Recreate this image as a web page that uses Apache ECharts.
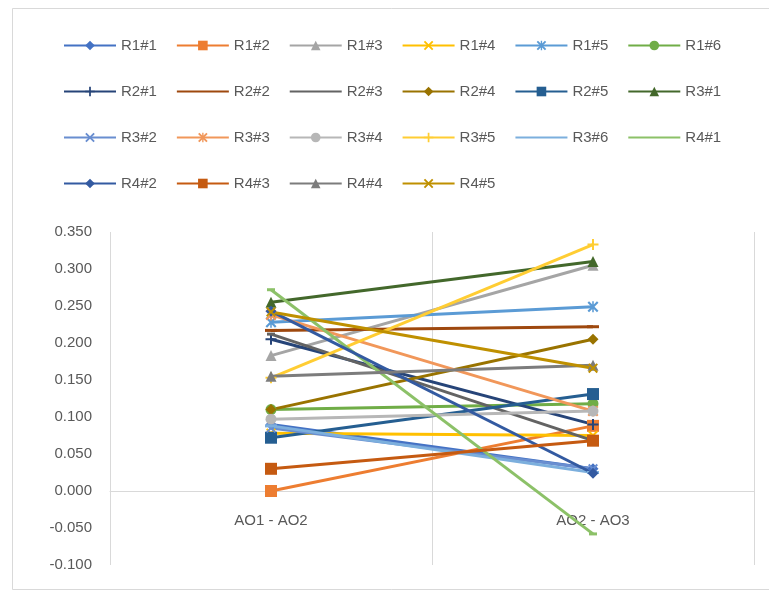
<!DOCTYPE html>
<html>
<head>
<meta charset="utf-8">
<script src="https://cdn.jsdelivr.net/npm/echarts@6/dist/echarts.min.js"></script>
<style>
  html, body { margin: 0; padding: 0; background: #ffffff; }
  #chart { width: 769px; height: 592px; }
</style>
</head>
<body>
<div id="chart"></div>
<script>
// ---- data ----
const categories = ['AO1 - AO2', 'AO2 - AO3'];
const seriesNames = [
  'R1#1', 'R1#2', 'R1#3', 'R1#4', 'R1#5', 'R1#6',
  'R2#1', 'R2#2', 'R2#3', 'R2#4', 'R2#5', 'R3#1',
  'R3#2', 'R3#3', 'R3#4', 'R3#5', 'R3#6', 'R4#1',
  'R4#2', 'R4#3', 'R4#4', 'R4#5'
];
// value at "AO1 - AO2" for each series (same order as seriesNames)
const valuesAO1AO2 = [
  0.090, 0.000, 0.183, 0.078, 0.228, 0.110,
  0.205, 0.217, 0.212, 0.110, 0.072, 0.255,
  0.085, 0.238, 0.097, 0.153, 0.088, 0.272,
  0.243, 0.030, 0.155, 0.242
];
// value at "AO2 - AO3" for each series
const valuesAO2AO3 = [
  0.030, 0.088, 0.305, 0.075, 0.249, 0.118,
  0.090, 0.222, 0.068, 0.205, 0.131, 0.310,
  0.030, 0.108, 0.108, 0.333, 0.025, -0.058,
  0.024, 0.068, 0.170, 0.166
];
const yMin = -0.1, yMax = 0.35, yStep = 0.05;

// ---- styling ----
const palette = [
  '#4472C4', '#ED7D31', '#A5A5A5', '#FFC000', '#5B9BD5', '#70AD47',
  '#264478', '#9E480E', '#636363', '#997300', '#255E91', '#43682B',
  '#698ED0', '#F1975A', '#B7B7B7', '#FFCD33', '#7CAFDD', '#8CC168',
  '#335AA1', '#C55A11', '#7C7C7C', '#BF9000'
];
const SYM = {
  diamond: { symbol: 'diamond', size: 11 },
  square:  { symbol: 'rect', size: 12 },
  triangle:{ symbol: 'triangle', size: 11 },
  x:       { symbol: 'path://M0,1.4L1.4,0L5,3.6L8.6,0L10,1.4L6.4,5L10,8.6L8.6,10L5,6.4L1.4,10L0,8.6L3.6,5Z', size: 10 },
  star:    { symbol: 'path://M0,1.4L1.4,0L4.3,2.9L4.3,0L5.7,0L5.7,2.9L8.6,0L10,1.4L6.4,5L10,8.6L8.6,10L5.7,7.1L5.7,10L4.3,10L4.3,7.1L1.4,10L0,8.6L3.6,5Z', size: 11 },
  circle:  { symbol: 'circle', size: 11 },
  plus:    { symbol: 'path://M4.1,0H5.9V4.1H10V5.9H5.9V10H4.1V5.9H0V4.1H4.1Z', size: 11 },
  dash:    { symbol: 'path://M0,0H10V2H0Z', size: [12, 3], plainLegend: true },
  dot:     { symbol: 'path://M0,0H10V2H0Z', size: [8, 3], plainLegend: true }
};
const markerCycle = ['diamond', 'square', 'triangle', 'x', 'star', 'circle', 'plus', 'dash', 'dot'];
const markerOf = i => SYM[markerCycle[i % markerCycle.length]];

const textColor = '#595959';
const gridColor = '#d9d9d9';
const fontFamily = '"Liberation Sans", Arial, sans-serif';

const series = seriesNames.map((name, i) => {
  const m = markerOf(i);
  return {
    name: name,
    type: 'line',
    data: [valuesAO1AO2[i], valuesAO2AO3[i]],
    symbol: m.symbol,
    symbolSize: m.size,
    showSymbol: true,
    color: palette[i],
    lineStyle: { width: 3, color: palette[i] },
    itemStyle: { color: palette[i] },
    emphasis: { disabled: true },
    animation: false
  };
});

// legend laid out as four rows; dash-marker series show a plain line
const legendRows = [seriesNames.slice(0, 6), seriesNames.slice(6, 12), seriesNames.slice(12, 18), seriesNames.slice(18)];
const legendTops = [33, 79, 125, 171];
const legends = legendRows.map((row, r) => ({
  data: row.map(name => {
    const m = markerOf(seriesNames.indexOf(name));
    return m.plainLegend ? { name: name, itemStyle: { opacity: 0 } } : { name: name };
  }),
  left: 58,
  top: legendTops[r],
  orient: 'horizontal',
  itemWidth: 52,
  itemHeight: 12,
  itemGap: 19,
  selectedMode: false,
  textStyle: { color: textColor, fontSize: 15, fontFamily: fontFamily }
}));

// distance (px) of the zero line above the plot bottom, so the category axis sits on zero
const plotTop = 232, plotBottom = 27, plotHeight = 592 - plotTop - plotBottom;
const zeroOffset = plotHeight * (0 - yMin) / (yMax - yMin);

const chart = echarts.init(document.getElementById('chart'), null, { renderer: 'canvas' });
chart.setOption({
  backgroundColor: '#ffffff',
  animation: false,
  legend: legends,
  graphic: [{
    type: 'rect',
    shape: { x: 12.5, y: 8.5, width: 800, height: 581 },
    style: { fill: 'none', stroke: gridColor, lineWidth: 1 },
    silent: true
  }],
  grid: { left: 110, right: 15, top: plotTop, bottom: plotBottom, containLabel: false, outerBoundsMode: 'none' },
  xAxis: {
    type: 'category',
    data: categories,
    boundaryGap: true,
    position: 'bottom',
    offset: -zeroOffset,
    axisLine: { onZero: false, lineStyle: { color: gridColor, width: 1 } },
    axisTick: { show: false },
    axisLabel: { color: textColor, fontSize: 15, fontFamily: fontFamily, margin: 22 },
    splitLine: { show: true, lineStyle: { color: gridColor, width: 1 } }
  },
  yAxis: {
    type: 'value',
    min: yMin,
    max: yMax,
    interval: yStep,
    axisLine: { show: false },
    axisTick: { show: false },
    splitLine: { show: false },
    axisLabel: {
      color: textColor, fontSize: 15, fontFamily: fontFamily, margin: 18,
      formatter: v => v.toFixed(3)
    }
  },
  series: series
});
</script>
</body>
</html>
